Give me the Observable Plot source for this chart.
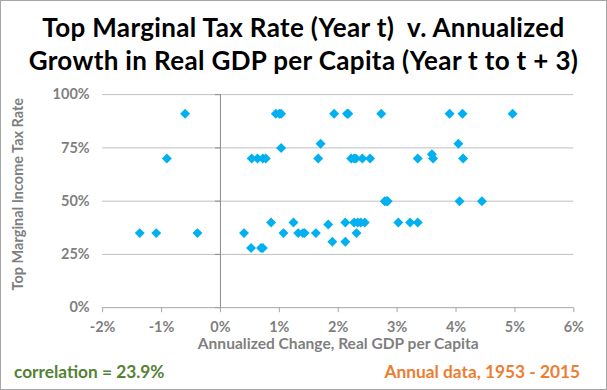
<!DOCTYPE html>
<html><head><meta charset="utf-8">
<script src="https://cdn.jsdelivr.net/npm/d3@7"></script>
<script src="https://cdn.jsdelivr.net/npm/@observablehq/plot@0.6"></script>
<style>
body{margin:0;background:#fff;}
#wrap{position:relative;width:607px;height:390px;box-sizing:border-box;border:1px solid #a6a6a6;font-family:Lato,sans-serif;overflow:hidden;background:#fff}
#title{position:absolute;left:0;top:10px;width:100%;text-align:center;font-weight:bold;font-size:26px;letter-spacing:0.35px;line-height:33px;color:#000}
#chart{position:absolute;left:-1px;top:-1px}
.note{position:absolute;font-weight:bold;font-size:17.3px;line-height:20px}
</style></head><body>
<div id="wrap">
<div id="chart"></div>
<div id="title">Top Marginal Tax Rate (Year t)&nbsp; v. Annualized<br>Growth in Real GDP per Capita (Year t to t + 3)</div>
<div class="note" style="left:13px;top:361px;color:#548235">correlation = 23.9%</div>
<div class="note" style="right:26px;top:361px;color:#ED7D31">Annual data, 1953 - 2015</div>
</div>
<script>
// Annualized growth in real GDP per capita (year t to t+3), %
const growth = [
  -0.60, 0.94, 1.00, 1.03, 1.93, 2.15, 2.73, 3.89, 4.11, 4.96, 2.17,
  1.70, 4.04,
  1.03,
  3.59,
  -0.91, 0.53, 0.63, 0.72, 0.77, 1.66, 2.22, 2.30, 2.41, 2.54, 3.35, 3.61, 4.12, 2.27,
  2.79, 2.84, 4.06, 4.44, 2.82,
  0.86, 1.24, 1.83, 2.12, 2.27, 2.33, 2.45, 3.02, 3.22, 3.35, 2.38,
  0.52, 0.69, 0.72,
  1.90, 2.12,
  -1.37, -1.09, -0.39, 0.40, 1.07, 1.32, 1.43, 1.62, 2.31, 1.40
];
// Top marginal income tax rate in year t, %
const rate = [
  91, 91, 91, 91, 91, 91, 91, 91, 91, 91, 91,
  77, 77,
  75,
  72,
  70, 70, 70, 70, 70, 70, 70, 70, 70, 70, 70, 70, 70, 70,
  50, 50, 50, 50, 50,
  40, 40, 39, 40, 40, 40, 40, 40, 40, 40, 40,
  28, 28, 28,
  31, 31,
  35, 35, 35, 35, 35, 35, 35, 35, 35, 35
];
const xTicks = [-2, -1, 0, 1, 2, 3, 4, 5, 6];
const yTicks = [0, 25, 50, 75, 100];

const data = growth.map((g, i) => ({g, r: rate[i]}));
const gray = "#7f7f7f";

const chart = Plot.plot({
  width: 607, height: 390,
  marginLeft: 102.3, marginRight: 32.7, marginTop: 94.3, marginBottom: 82.3,
  style: {fontFamily: "Lato, sans-serif", background: "transparent"},
  x: {domain: [-2, 6]},
  y: {domain: [0, 100]},
  marks: [
    Plot.gridY(yTicks.filter(d => d > 0), {stroke: "#bfbfbf", strokeOpacity: 1}),
    Plot.ruleX([0], {stroke: "#8c8c8c"}),
    Plot.ruleY(yTicks, {x1: 0, x2: 0, insetLeft: -5, stroke: "#8c8c8c"}),
    Plot.ruleY([0], {stroke: "#a6a6a6"}),
    Plot.axisX(xTicks, {tickSize: 5, tickPadding: 9, tickFormat: d => d + "%", fontSize: 14.5, fontWeight: "bold", stroke: "#a6a6a6", fill: gray, label: null}),
    Plot.axisY(yTicks, {tickSize: 0, tickPadding: 13, tickFormat: d => d + "%", fontSize: 14.5, fontWeight: "bold", fill: gray, label: null}),
    Plot.text(["Annualized Change, Real GDP per Capita"], {frameAnchor: "bottom", dy: 41, fontSize: 15.6, fontWeight: "bold", fill: gray}),
    Plot.text(["Top Marginal Income Tax Rate"], {frameAnchor: "left", textAnchor: "middle", dx: -84, dy: -7, rotate: -90, fontSize: 14.5, fontWeight: "bold", fill: gray}),
    Plot.dot(data, {x: "g", y: "r", symbol: "diamond2", r: 4.5, fill: "#00B0F0"})
  ]
});
document.getElementById("chart").appendChild(chart);
</script>
</body></html>
